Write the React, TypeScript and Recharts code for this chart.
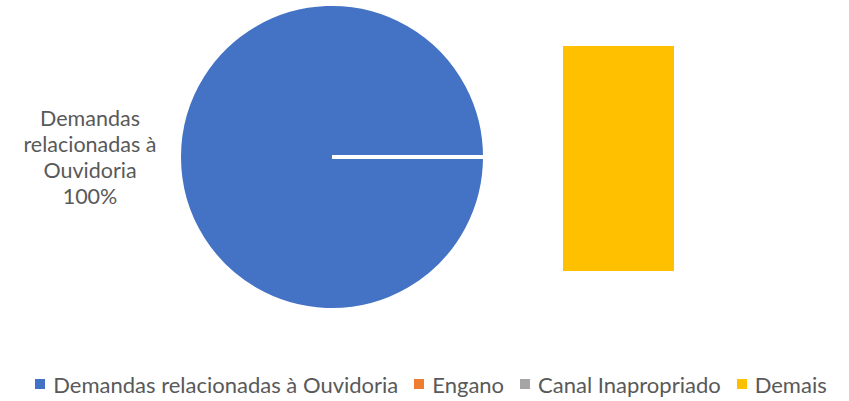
import { Bar, BarChart, Legend, Pie, PieChart, XAxis, YAxis } from "recharts";

const categories = ["Demandas relacionadas à Ouvidoria", "Engano", "Canal Inapropriado", "Demais"];
const pieValues = [100, 0, 0, 0];
const colors = ["#4472C4", "#ED7D31", "#A5A5A5", "#FFC000"];

const barCategories = ["Engano", "Canal Inapropriado", "Demais"];
const barValues = [0, 0, 1];

const FONT = "Lato, 'Noto Sans', sans-serif";
const TEXT = "#595959";

const pieData = categories.map((name, i) => ({ name, value: pieValues[i], fill: colors[i] }));
const barRow: Record<string, number | string> = { name: "Demais" };
barCategories.forEach((c, i) => {
  barRow[c] = barValues[i];
});

function renderLabel(props: any) {
  const { cx, cy, midAngle, outerRadius, percent, name, value } = props;
  if (!value) return null;
  const RAD = Math.PI / 180;
  const r = outerRadius + 89;
  const x = cx + r * Math.cos(-midAngle * RAD);
  const y = cy + r * Math.sin(-midAngle * RAD);
  const words = name.split(" ");
  const lines = [words[0], `${words[1]} ${words[2]}`, words[3], `${Math.round(percent * 100)}%`];
  const lh = 26;
  const top = y - ((lines.length - 1) * lh) / 2;
  return (
    <text x={x} y={top} textAnchor="middle" dominantBaseline="central" fill={TEXT} fontSize={21.5} fontFamily={FONT}>
      {lines.map((l, i) => (
        <tspan key={i} x={x} y={top + i * lh}>
          {l}
        </tspan>
      ))}
    </text>
  );
}

function LegendContent({ payload }: any) {
  const items = [...(payload ?? [])].sort(
    (a: any, b: any) => categories.indexOf(a.value) - categories.indexOf(b.value)
  );
  return (
    <div style={{ display: "flex", justifyContent: "center", alignItems: "center", height: 28, paddingLeft: 13 }}>
      {items.map((p: any, i: number) => (
        <div key={i} style={{ display: "flex", alignItems: "center", marginRight: i < items.length - 1 ? 16 : 0 }}>
          <span style={{ width: 10, height: 10, background: p.color, display: "inline-block", marginRight: 8 }} />
          <span style={{ color: TEXT, fontSize: 22, fontFamily: FONT }}>{p.value}</span>
        </div>
      ))}
    </div>
  );
}

export default function App() {
  return (
    <div style={{ position: "absolute", left: 0, top: 0, width: 849, height: 401, background: "#fff" }}>
      <PieChart width={849} height={401} margin={{ top: 0, right: 0, bottom: 0, left: 0 }}>
        <Pie
          data={pieData}
          dataKey="value"
          nameKey="name"
          cx={332}
          cy={157}
          outerRadius={153}
          startAngle={0}
          endAngle={360}
          stroke="#ffffff"
          strokeWidth={4}
          label={renderLabel}
          labelLine={false}
          isAnimationActive={false}
        />
        <Legend
          content={<LegendContent />}
          wrapperStyle={{ top: 370, left: 0, width: 849 }}
        />
      </PieChart>
      <div style={{ position: "absolute", left: 563, top: 46 }}>
        <BarChart width={111} height={225} data={[barRow]} margin={{ top: 0, right: 0, bottom: 0, left: 0 }} barCategoryGap={0}>
          <XAxis dataKey="name" hide />
          <YAxis hide domain={[0, "dataMax"]} />
          {barCategories.map((c, i) => (
            <Bar key={c} dataKey={c} stackId="s" fill={colors[i + 1]} isAnimationActive={false} />
          ))}
        </BarChart>
      </div>
    </div>
  );
}
